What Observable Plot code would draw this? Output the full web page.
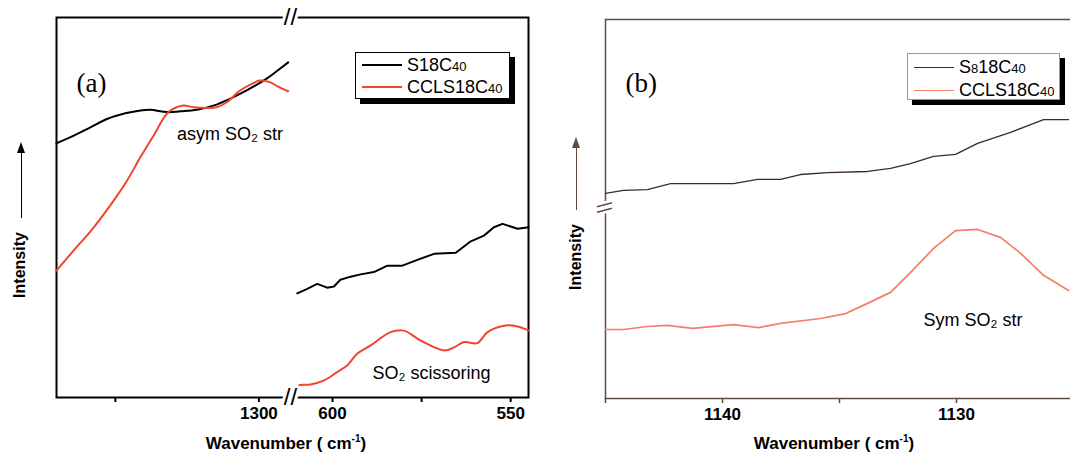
<!DOCTYPE html>
<html><head><meta charset="utf-8">
<script src="https://cdn.jsdelivr.net/npm/d3@7"></script>
<script src="https://cdn.jsdelivr.net/npm/@observablehq/plot@0.6"></script>
<style>
html,body{margin:0;padding:0;background:#fff;overflow:hidden;}
#wrap{position:relative;width:1070px;height:458px;overflow:hidden;font-family:"Liberation Sans",Arial,Helvetica,sans-serif;color:#000;}
#wrap svg{position:absolute;top:0;}
.ylab{position:absolute;transform:translate(-50%,-50%) rotate(-90deg);font-weight:bold;font-size:16px;white-space:nowrap;}
.xlab{position:absolute;transform:translate(-50%,-50%);font-weight:bold;font-size:17px;white-space:nowrap;}
.xlab .sup{font-size:10px;position:relative;top:-7px;}
.arrow{position:absolute;width:0;}
.arrow::before{content:"";position:absolute;left:-4.75px;top:-9px;border-left:4px solid transparent;border-right:4px solid transparent;border-bottom:11px solid currentColor;}
.legend{position:absolute;background:#fff;box-sizing:border-box;font-size:18px;}
.legend .row{position:absolute;left:0;height:20px;display:flex;align-items:center;white-space:nowrap;}
.legend .ln{display:inline-block;width:40px;margin-left:6px;margin-right:5px;}
.legend .sm{font-size:13px;position:relative;top:1px;}
</style></head>
<body><div id="wrap"></div>
<script>
// ---------- Panel (a) data ----------
// S18C40, high-wavenumber segment
const aS18HiWn = [1370.5,1364.5,1358.7,1352.9,1349.4,1341.3,1337.8,1332.0,1327.4,1321.6,1315.9,1310.1,1304.3,1297.3,1292.7,1289.8];
const aS18HiI  = [66.9,68.9,71.1,73.3,74.2,75.5,75.7,75.1,75.3,75.7,76.8,78.6,80.8,83.9,86.5,88.2];
// CCLS18C40, high-wavenumber segment
const aCCHiWn = [1370.5,1364.5,1357.5,1350.6,1345.9,1341.3,1336.7,1331.5,1326.8,1322.8,1318.2,1314.7,1311.2,1306.6,1302.0,1299.7,1296.2,1293.3,1289.8];
const aCCHiI  = [33.4,38.7,44.8,51.8,57.1,63.2,68.9,75.1,76.8,76.4,76.2,76.4,77.7,80.8,82.7,83.4,83.0,81.8,80.6];
// S18C40, low-wavenumber segment
const aS18LoWn = [609.9,607.1,604.3,601.5,599.6,597.8,594.9,592.1,588.4,584.6,580.4,576.2,571.5,565.4,561.2,557.5,554.7,552.3,548.1,544.9];
const aS18LoI  = [27.4,28.6,29.9,28.9,29.2,31.0,31.8,32.4,33.0,34.7,34.7,36.2,37.8,38.1,41.1,42.6,44.8,45.7,44.4,44.8];
// CCLS18C40, low-wavenumber segment
const aCCLoWn = [610.4,609.5,606.2,602.4,598.7,595.9,593.1,589.3,583.7,580.0,575.3,568.7,565.9,563.1,559.4,556.5,551.9,548.1,544.9];
const aCCLoI  = [2.3,3.2,3.4,4.5,6.7,8.4,11.5,13.7,17.2,17.6,15.0,12.4,13.2,14.6,14.3,17.2,18.9,18.7,17.6];
// axis: piecewise (broken) wavenumber axis
const aDomain = [1370.5,1289,611.8,545];
const aTicks = [1350,1300,600,575,550];
const aTickLabels = [1300,600,550];
const aNotes = [
  {wn:1328.5, I:69.2, text:"asym SO₂ str"},
  {wn:588.8, I:6.3, text:"SO₂ scissoring"}
];

// ---------- Panel (b) data ----------
const bS8Wn = [1145.0,1144.23,1143.21,1142.22,1139.53,1138.50,1137.52,1136.67,1135.51,1133.80,1132.82,1131.97,1130.98,1130.04,1129.10,1127.69,1126.28,1125.21];
const bS8I  = [54.1,54.9,55.1,56.7,56.7,57.8,57.8,59.1,59.6,59.9,60.7,62.0,63.9,64.4,67.3,70.2,73.6,73.6];
const bCCWn = [1145.0,1144.23,1143.21,1142.35,1141.28,1139.53,1138.46,1137.52,1135.81,1134.74,1133.80,1132.82,1131.97,1130.98,1130.04,1129.10,1128.12,1127.26,1126.28,1125.21];
const bCCI  = [18.2,18.2,19.0,19.3,18.5,19.5,18.7,19.8,21.1,22.4,25.1,28.0,33.2,39.6,44.3,44.6,42.5,38.3,32.5,28.5];
const bDomain = [1145,1125];
const bTicks = [1145,1140,1135,1130,1125];
const bTickLabels = [1140,1130];
const bBreakI = 50.4;
const bNotes = [{wn:1131.41, I:20.6, text:"Sym SO₂ str"}];

const rows = (wn, I) => wn.map((w,i) => ({wn:w, I:I[i]}));

const RED_A = "#f2442c", RED_B = "#f47f66", BLK_B = "#3d2b22", FRAME_B = "#5f4b40";
const FONT = "'Liberation Sans', Arial, Helvetica, sans-serif";
const wrap = document.getElementById("wrap");

// ---------- Panel (a) ----------
const plotA = Plot.plot({
  width:560, height:458, marginLeft:56, marginRight:32, marginTop:17, marginBottom:61,
  x:{type:"linear", domain:aDomain, range:[56,290,290,528]},
  y:{domain:[0,100], axis:null},
  style:{fontFamily:FONT, background:"transparent", color:"#000", overflow:"visible"},
  marks:[
    Plot.frame({stroke:"#000", strokeWidth:2}),
    Plot.axisX({ticks:aTicks, tickFormat:d => aTickLabels.includes(d) ? String(d) : "", tickSize:5, tickPadding:4,
      fontSize:17, fontWeight:"bold", label:null, strokeWidth:2}),
    Plot.line(rows(aS18HiWn,aS18HiI), {x:"wn", y:"I", stroke:"#000", strokeWidth:2, curve:"catmull-rom"}),
    Plot.line(rows(aCCHiWn,aCCHiI), {x:"wn", y:"I", stroke:RED_A, strokeWidth:2, curve:"catmull-rom"}),
    Plot.line(rows(aS18LoWn,aS18LoI), {x:"wn", y:"I", stroke:"#000", strokeWidth:2}),
    Plot.line(rows(aCCLoWn,aCCLoI), {x:"wn", y:"I", stroke:RED_A, strokeWidth:2, curve:"catmull-rom"}),
    Plot.text([{wn:aDomain[2], I:100},{wn:aDomain[2], I:0}], {x:"wn", y:"I", text:() => "//",
      fontSize:24, fill:"#000", stroke:"#fff", strokeWidth:6}),
    Plot.text(["(a)"], {frameAnchor:"top-left", dx:20, dy:55, fontSize:27, fontFamily:"'Liberation Serif', 'Times New Roman', serif", textAnchor:"start"}),
    Plot.text(aNotes, {x:"wn", y:"I", text:"text", textAnchor:"start", fontSize:18})
  ]
});
plotA.style.left = "0px";
wrap.appendChild(plotA);

// ---------- Panel (b) ----------
const plotB = Plot.plot({
  width:520, height:458, marginLeft:45, marginRight:7, marginTop:19, marginBottom:60,
  x:{domain:bDomain},
  y:{domain:[0,100], axis:null},
  style:{fontFamily:FONT, background:"transparent", color:"#000", overflow:"visible"},
  marks:[
    Plot.frame({stroke:FRAME_B, strokeWidth:1.5}),
    Plot.axisX({ticks:bTicks, tickFormat:d => bTickLabels.includes(d) ? String(d) : "", tickSize:5, tickPadding:4,
      fontSize:17, fontWeight:"bold", label:null, stroke:FRAME_B, strokeWidth:1.5}),
    Plot.line(rows(bS8Wn,bS8I), {x:"wn", y:"I", stroke:BLK_B, strokeWidth:1.3}),
    Plot.line(rows(bCCWn,bCCI), {x:"wn", y:"I", stroke:RED_B, strokeWidth:1.7}),
    Plot.text([{wn:bDomain[0], I:bBreakI}], {x:"wn", y:"I", text:() => "\\\\",
      rotate:-90, fontSize:20, fill:FRAME_B, stroke:"#fff", strokeWidth:5}),
    Plot.text(["(b)"], {frameAnchor:"top-left", dx:20, dy:53, fontSize:27, fontFamily:"'Liberation Serif', 'Times New Roman', serif", textAnchor:"start"}),
    Plot.text(bNotes, {x:"wn", y:"I", text:"text", textAnchor:"start", fontSize:18})
  ]
});
plotB.style.left = "560px";
wrap.appendChild(plotB);

// ---------- HTML labels, arrows, legends ----------
function add(html){ const t = document.createElement("div"); t.innerHTML = html; wrap.appendChild(t.firstElementChild); }
add(`<div class="ylab" style="left:20px;top:265px">Intensity</div>`);
add(`<div class="ylab" style="left:576px;top:257px">Intensity</div>`);
add(`<div class="arrow" style="left:21px;top:151px;height:67px;border-left:1.5px solid #000;color:#000"></div>`);
add(`<div class="arrow" style="left:576px;top:146px;height:64px;border-left:1.5px solid ${FRAME_B};color:${FRAME_B}"></div>`);
add(`<div class="xlab" style="left:286px;top:444px">Wavenumber ( cm<span class="sup">-1</span>)</div>`);
add(`<div class="xlab" style="left:834px;top:444px">Wavenumber ( cm<span class="sup">-1</span>)</div>`);

add(`<div class="legend" style="left:355px;top:52px;width:155px;height:47px;border:1.3px solid #000;box-shadow:5px 5px 0 #000">
  <div class="row" style="top:2px"><span class="ln" style="border-top:2px solid #000"></span>S18C<span class="sm">40</span></div>
  <div class="row" style="top:24px"><span class="ln" style="border-top:2px solid ${RED_A}"></span>CCLS18C<span class="sm">40</span></div>
</div>`);
add(`<div class="legend" style="left:907px;top:53px;width:153px;height:47px;border:1.3px solid #8e9ca4;box-shadow:5px 5px 0 #000">
  <div class="row" style="top:3px"><span class="ln" style="border-top:1.3px solid ${BLK_B}"></span>S<span class="sm">8</span>18C<span class="sm">40</span></div>
  <div class="row" style="top:26px"><span class="ln" style="border-top:1.5px solid ${RED_B}"></span>CCLS18C<span class="sm">40</span></div>
</div>`);
</script></body></html>
